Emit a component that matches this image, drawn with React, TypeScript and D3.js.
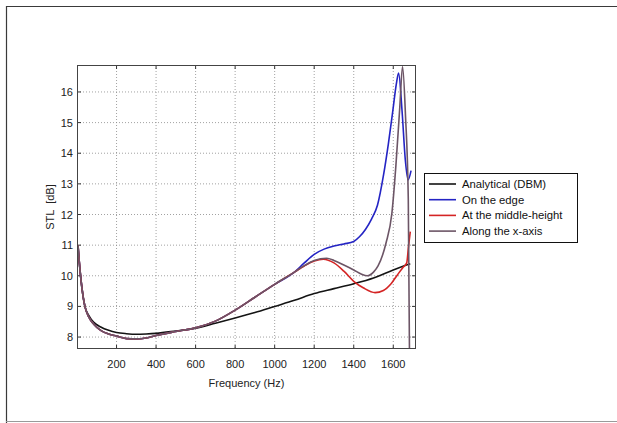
import React from "react";
import * as d3 from "d3";

const xTicks = [200, 400, 600, 800, 1000, 1200, 1400, 1600];
const yTicks = [8, 9, 10, 11, 12, 13, 14, 15, 16];

const dbmFreq = [5, 15, 25, 40, 60, 85, 120, 160, 200, 250, 300, 350, 400, 500, 600, 700, 800, 900, 1000, 1100, 1200, 1300, 1400, 1500, 1600, 1686];
const dbmVal = [11.0, 10.2, 9.6, 9.0, 8.7, 8.48, 8.33, 8.22, 8.15, 8.11, 8.09, 8.1, 8.12, 8.2, 8.29, 8.45, 8.62, 8.8, 9.0, 9.2, 9.42, 9.58, 9.74, 9.93, 10.19, 10.39];

const lowFreq = [5, 15, 25, 40, 60, 85, 120, 160, 200, 250, 300, 350, 400, 500, 600, 700, 800, 900, 1000, 1100];
const lowVal = [11.0, 10.2, 9.6, 9.0, 8.65, 8.42, 8.22, 8.1, 8.03, 7.95, 7.94, 7.97, 8.05, 8.18, 8.3, 8.52, 8.88, 9.3, 9.72, 10.12];

const edgeFreq = [1150, 1200, 1250, 1300, 1350, 1400, 1430, 1460, 1490, 1520, 1551, 1575, 1598, 1615, 1627, 1644, 1661, 1675, 1690];
const edgeVal = [10.42, 10.7, 10.87, 10.97, 11.04, 11.12, 11.28, 11.52, 11.85, 12.3, 13.3, 14.3, 15.4, 16.24, 16.62, 15.42, 13.78, 13.13, 13.43];

const midFreq = [1150, 1200, 1246, 1300, 1350, 1400, 1450, 1508, 1550, 1590, 1620, 1650, 1668, 1677, 1686];
const midVal = [10.32, 10.48, 10.54, 10.42, 10.15, 9.82, 9.6, 9.45, 9.52, 9.75, 10.02, 10.28, 10.42, 10.95, 11.44];

const axisFreq = [1150, 1200, 1263, 1300, 1350, 1400, 1440, 1468, 1500, 1523, 1563, 1593, 1613, 1633, 1647, 1662, 1676, 1682];
const axisVal = [10.33, 10.5, 10.57, 10.5, 10.35, 10.19, 10.05, 10.0, 10.12, 10.32, 11.06, 12.04, 13.57, 15.5, 16.83, 15.2, 12.5, 7.5];

const legendLabels = ["Analytical (DBM)", "On the edge", "At the middle-height", "Along the x-axis"];
const colors = ["#141414", "#2424c4", "#d42424", "#6c5566"];

function zip(f: number[], v: number[]): [number, number][] {
  return f.map((x, i) => [x, v[i]]);
}

export default function App() {
  const W = 617, H = 423;
  const left = 77, right = 416, top = 65, bottom = 349;
  const x = d3.scaleLinear().domain([0, 1715]).range([left, right]);
  const y = d3.scaleLinear().domain([7.61, 16.88]).range([bottom, top]);
  const line = d3.line<[number, number]>().x(d => x(d[0])).y(d => y(d[1])).curve(d3.curveMonotoneX);

  const series: [number, number][][] = [
    zip(dbmFreq, dbmVal),
    zip(lowFreq, lowVal).concat(zip(edgeFreq, edgeVal)),
    zip(lowFreq, lowVal).concat(zip(midFreq, midVal)),
    zip(lowFreq, lowVal).concat(zip(axisFreq, axisVal)),
  ];
  const font = "'Liberation Sans', Arial, sans-serif";
  const tickLen = 4;

  return (
    <svg width={W} height={H} style={{ position: "absolute", left: 0, top: 0 }} fontFamily={font}>
      <rect x={0} y={0} width={W} height={H} fill="#fff" />
      <path d={`M6.5,${H + 2} L6.5,6.5 L${W + 2},6.5`} fill="none" stroke="#3a3a3a" strokeWidth={1.2} />
      <line x1={6} x2={W} y1={421.5} y2={421.5} stroke="#9a9a9a" strokeWidth={1} />
      <defs>
        <clipPath id="plotclip">
          <rect x={left} y={top} width={right - left} height={bottom - top} />
        </clipPath>
      </defs>
      {xTicks.map(t => (
        <line key={"gx" + t} x1={x(t)} x2={x(t)} y1={top} y2={bottom} stroke="#8a8a8a" strokeWidth={0.8} strokeDasharray="1,2" />
      ))}
      {yTicks.map(t => (
        <line key={"gy" + t} x1={left} x2={right} y1={y(t)} y2={y(t)} stroke="#8a8a8a" strokeWidth={0.8} strokeDasharray="1,2" />
      ))}
      {xTicks.map(t => (
        <g key={"tx" + t}>
          <line x1={x(t)} x2={x(t)} y1={bottom} y2={bottom - tickLen} stroke="#333" />
          <line x1={x(t)} x2={x(t)} y1={top} y2={top + tickLen} stroke="#333" />
          <text x={x(t)} y={368} fontSize={11} textAnchor="middle" fill="#222">{t}</text>
        </g>
      ))}
      {yTicks.map(t => (
        <g key={"ty" + t}>
          <line x1={left} x2={left + tickLen} y1={y(t)} y2={y(t)} stroke="#333" />
          <line x1={right} x2={right - tickLen} y1={y(t)} y2={y(t)} stroke="#333" />
          <text x={73} y={y(t) + 4} fontSize={11} textAnchor="end" fill="#222">{t}</text>
        </g>
      ))}
      <g clipPath="url(#plotclip)">
        {series.map((s, i) => (
          <path key={"s" + i} d={line(s) || ""} fill="none" stroke={colors[i]} strokeWidth={1.6} strokeLinejoin="round" />
        ))}
      </g>
      <rect x={left + 0.5} y={top + 0.5} width={right - left - 1} height={bottom - top - 1} fill="none" stroke="#444" strokeWidth={1} />
      <text x={(left + right) / 2} y={387} fontSize={11} textAnchor="middle" fill="#222">Frequency (Hz)</text>
      <text transform={`translate(54,${(top + bottom) / 2}) rotate(-90)`} fontSize={11} textAnchor="middle" fill="#222" xmlSpace="preserve">STL  [dB]</text>
      <rect x={424.5} y={173.5} width={153} height={69} fill="#fff" stroke="#111" strokeWidth={1} />
      {legendLabels.map((lab, i) => (
        <g key={"lg" + i}>
          <line x1={429} x2={456} y1={184 + i * 15.7} y2={184 + i * 15.7} stroke={colors[i]} strokeWidth={1.6} />
          <text x={462} y={188 + i * 15.7} fontSize={11.3} fill="#111">{lab}</text>
        </g>
      ))}
    </svg>
  );
}
